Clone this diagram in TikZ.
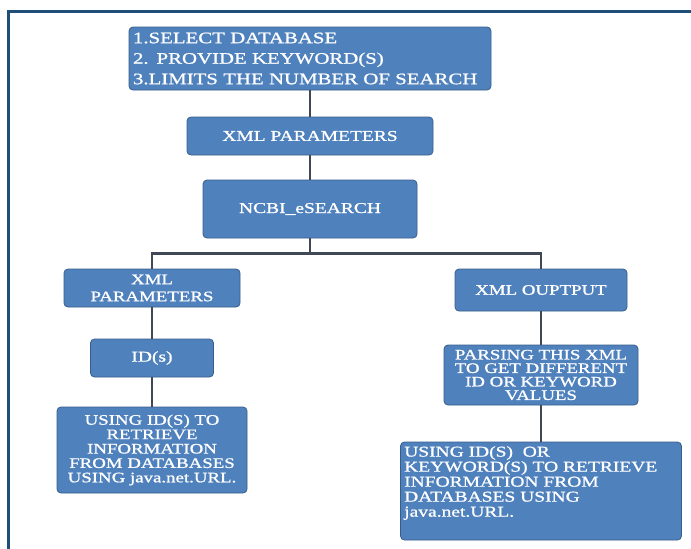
\documentclass[tikz,border=0pt]{standalone}
\usepackage{fontspec}
\newfontfamily\bfont[FakeStretch=1.3,FakeBold=1]{Liberation Serif}
\definecolor{boxfill}{RGB}{79,129,189}
\definecolor{boxline}{RGB}{56,93,138}
\definecolor{linkcol}{RGB}{64,72,86}
\definecolor{framecol}{RGB}{31,78,121}
\tikzset{
  box/.style={draw=boxline, fill=boxfill, rounded corners=4pt, line width=0.8pt,
    text=white, inner sep=0pt, align=center},
  txt/.style={text=white, inner sep=0pt},
  link/.style={draw=linkcol, line width=2.4pt},
  frameline/.style={draw=framecol, line width=3pt},
  fa/.style={font=\bfont\fontsize{16}{20.5}\selectfont},
  fb/.style={font=\bfont\fontsize{15}{15}\selectfont},
  fc/.style={font=\bfont\fontsize{14.5}{14.4}\selectfont},
  fe/.style={font=\bfont\fontsize{14.5}{17}\selectfont},
  fd/.style={font=\bfont\fontsize{14.5}{13.5}\selectfont},
}
\begin{document}
\begin{tikzpicture}[x=1pt,y=-1pt]
\useasboundingbox (0,0) rectangle (691,549);
\fill[white] (0,0) rectangle (691,549);
\draw[frameline] (8.5,549) -- (8.5,11) -- (691,11);

\node[box, fa, minimum width=362, minimum height=63, text width=354, align=left] (top) at (310,58.5)
  {1.SELECT DATABASE\\2. PROVIDE KEYWORD(S)\\3.LIMITS THE NUMBER OF SEARCH};
\node[box, fb, minimum width=246, minimum height=38] (xmlp) at (310,136) {XML PARAMETERS};
\node[box, fb, minimum width=214, minimum height=58] (ncbi) at (310,209) {NCBI\_eSEARCH};
\node[box, fe, minimum width=176, minimum height=38] (xmlp2) at (152,288) {XML\\PARAMETERS};
\node[box, fc, minimum width=172, minimum height=42] (xout) at (541,290) {XML OUPTPUT};
\node[box, fb, minimum width=123, minimum height=38] (ids) at (152,358) {ID(s)};
\node[box, fc, minimum width=190, minimum height=86] (lb) at (152,450)
  {USING ID(S) TO\\RETRIEVE\\INFORMATION\\FROM DATABASES\\USING java.net.URL.};
\node[box, fd, minimum width=194, minimum height=60] (parse) at (541,375)
  {PARSING THIS XML\\TO GET DIFFERENT\\ID OR KEYWORD\\VALUES};
\node[box, minimum width=281, minimum height=98] (rb) at (541,491) {};
\node[txt, fb, anchor=west, align=left] (rbt) at (404,483)
  {USING ID(S)\ \ OR\\KEYWORD(S) TO RETRIEVE\\INFORMATION FROM\\DATABASES USING\\java.net.URL.};

\draw[link] (top.south) -- (xmlp.north);
\draw[link] (xmlp.south) -- (ncbi.north);
\draw[link] (ncbi.south) -- ++(0,15) coordinate (j);
\draw[link] (xmlp2.north) |- (j) -| (xout.north);
\draw[link] (xmlp2.south) -- (ids.north);
\draw[link] (ids.south) -- (lb.north);
\draw[link] (xout.south) -- (parse.north);
\draw[link] (parse.south) -- (rb.north);
\end{tikzpicture}
\end{document}
